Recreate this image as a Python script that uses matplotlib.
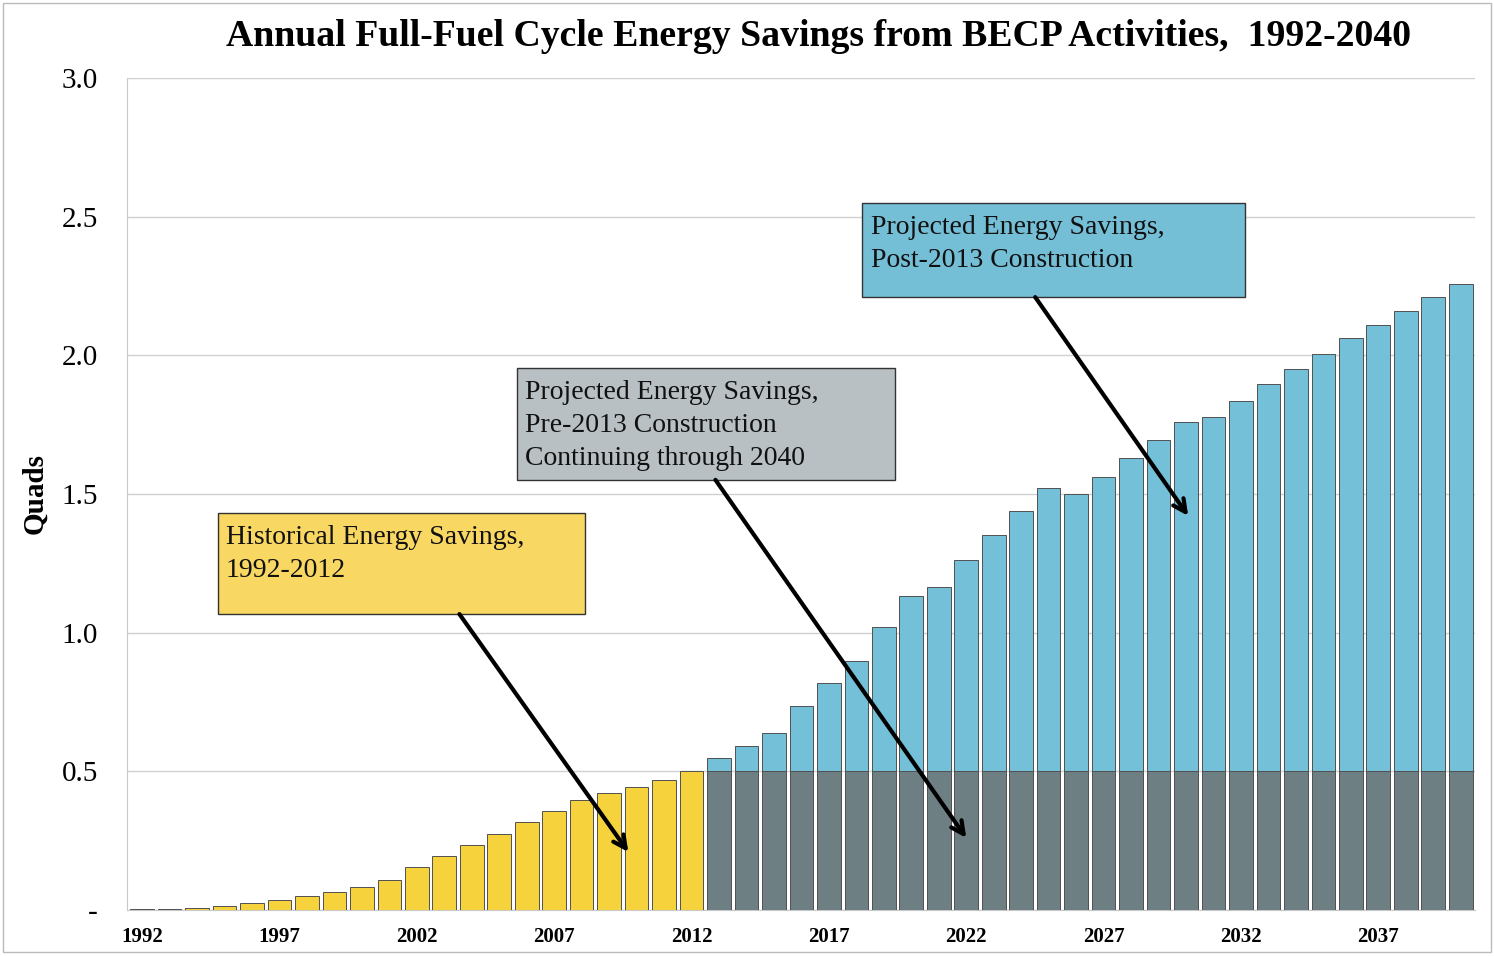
import numpy as np
import matplotlib.pyplot as plt
from matplotlib.patches import Rectangle

plt.rcParams['font.family'] = ['Liberation Serif', 'DejaVu Serif']

# Annual full-fuel cycle savings (quads)
hist_years = np.arange(1992, 2013)
hist_savings = [0.002, 0.005, 0.007, 0.015, 0.024, 0.036, 0.050, 0.065, 0.083, 0.108,
                0.154, 0.194, 0.236, 0.273, 0.317, 0.357, 0.396, 0.422, 0.445, 0.468, 0.500]

proj_years = np.arange(2013, 2041)
pre2013_savings = [0.5] * len(proj_years)
total_savings = [0.549, 0.591, 0.637, 0.734, 0.818, 0.898, 1.020, 1.132, 1.166, 1.262,
                 1.351, 1.440, 1.520, 1.499, 1.563, 1.629, 1.695, 1.759, 1.776, 1.835,
                 1.897, 1.950, 2.005, 2.061, 2.110, 2.160, 2.210, 2.256]
post2013_savings = [t - p for t, p in zip(total_savings, pre2013_savings)]

tick_years = list(range(1992, 2041, 5))
y_ticks = [0, 0.5, 1.0, 1.5, 2.0, 2.5, 3.0]
y_labels = ['-', '0.5', '1.0', '1.5', '2.0', '2.5', '3.0']

yellow = '#F6D23C'
gray = '#6E7F84'
blue = '#74C0D8'
edge = '#505050'

fig = plt.figure(figsize=(14.94, 9.56), dpi=100)
ax = fig.add_axes([127 / 1494, 1 - 910 / 956, (1475 - 127) / 1494, (910 - 78) / 956])

w = 0.86
ax.bar(hist_years, hist_savings, width=w, color=yellow, edgecolor=edge, linewidth=0.7, zorder=3)
ax.bar(proj_years, pre2013_savings, width=w, color=gray, edgecolor=edge, linewidth=0.7, zorder=3)
ax.bar(proj_years, post2013_savings, width=w, bottom=pre2013_savings, color=blue,
       edgecolor=edge, linewidth=0.7, zorder=3)

ax.set_xlim(1991.45, 2040.52)
ax.set_ylim(0, 3.0)
ax.set_yticks(y_ticks)
ax.set_yticklabels(y_labels, fontsize=21)
ax.set_xticks(tick_years)
ax.set_xticklabels([str(y) for y in tick_years], fontsize=15, fontweight='bold')
ax.tick_params(axis='both', length=0)
ax.tick_params(axis='y', pad=21)
ax.tick_params(axis='x', pad=12)
ax.grid(axis='y', color='#d0d0d0', linewidth=1.0, zorder=0)
for s in ['top', 'right']:
    ax.spines[s].set_visible(False)
ax.spines['left'].set_color('#c8c8c8')
ax.spines['bottom'].set_color('#c8c8c8')

ax.set_ylabel('Quads', fontsize=21, fontweight='bold')
ax.yaxis.set_label_coords(-0.0586, 0.5)

fig.text(819 / 1494, 1 - 37 / 956, 'Annual Full-Fuel Cycle Energy Savings from BECP Activities,  1992-2040',
         ha='center', va='center', fontsize=27.2, fontweight='bold')

# callout boxes: (x0, y0, x1, y1), fill, text
boxes = [
    ((1994.75, 1.067, 2008.14, 1.432), '#F8D762', 'Historical Energy Savings,\n1992-2012'),
    ((2005.63, 1.551, 2019.42, 1.955), '#B8C0C3', 'Projected Energy Savings,\nPre-2013 Construction\nContinuing through 2040'),
    ((2018.22, 2.210, 2032.16, 2.550), '#74BED6', 'Projected Energy Savings,\nPost-2013 Construction'),
]
for (x0, y0, x1, y1), fc, txt in boxes:
    ax.add_patch(Rectangle((x0, y0), x1 - x0, y1 - y0, facecolor=fc, edgecolor='#333333',
                           linewidth=1.0, zorder=5))
    ax.text(x0 + 0.3, y1 - 0.044, txt, ha='left', va='top', fontsize=20,
            linespacing=1.42, color='#111111', zorder=6)

arrows = [
    ((2003.55, 1.067), (2009.70, 0.209)),
    ((2012.87, 1.551), (2022.00, 0.260)),
    ((2024.51, 2.210), (2030.08, 1.421)),
]
for start, tip in arrows:
    ax.annotate('', xy=tip, xytext=start, zorder=7,
                arrowprops=dict(arrowstyle='->,head_length=0.9,head_width=0.45',
                                color='black', lw=3.0, shrinkA=0, shrinkB=0))

fig.add_artist(Rectangle((3 / 1494, 4 / 956), 1488 / 1494, 949 / 956, transform=fig.transFigure,
                         fill=False, edgecolor='#bbbbbb', linewidth=1.0))

fig.savefig('out.png', dpi=100)
